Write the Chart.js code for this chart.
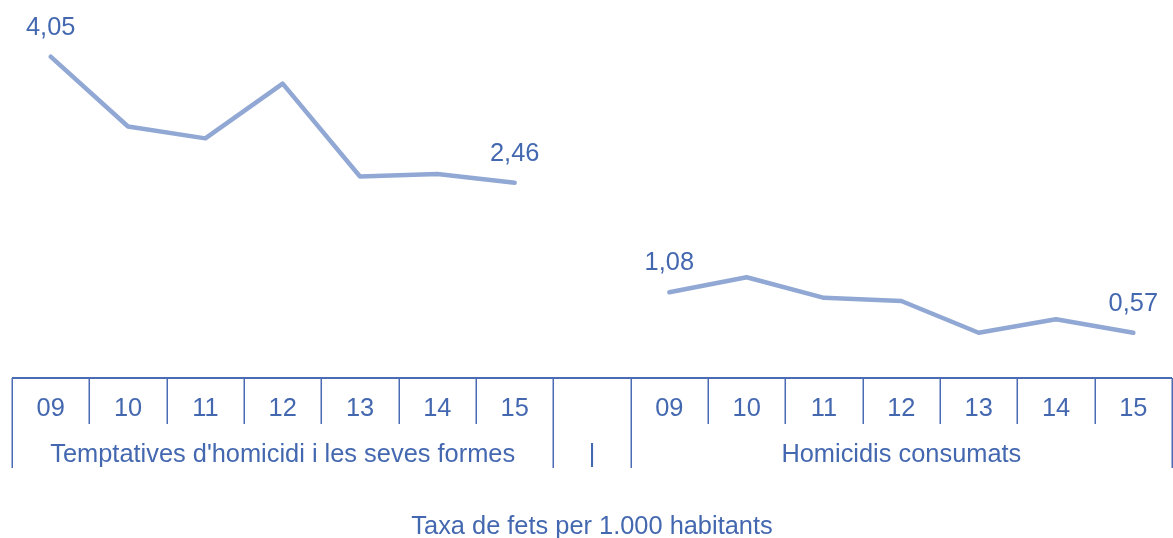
<!DOCTYPE html>
<html><head><meta charset="utf-8">
<script src="https://cdn.jsdelivr.net/npm/chart.js@4.4.0/dist/chart.umd.min.js"></script>
<style>html,body{margin:0;padding:0;background:#fff}#wrap{width:1173px;height:538px;position:relative}</style>
</head><body><div id="wrap"><canvas id="c"></canvas></div>
<script>
const categories = ['09','10','11','12','13','14','15','','09','10','11','12','13','14','15'];
const groupLabels = ["Temptatives d'homicidi i les seves formes", "|", "Homicidis consumats"];
const groupSizes = [7, 1, 7];
const temptatives = [4.05, 3.17, 3.02, 3.71, 2.54, 2.57, 2.46];
const consumats = [1.08, 1.27, 1.01, 0.97, 0.57, 0.74, 0.57];
const axisTitle = 'Taxa de fets per 1.000 habitants';

const LINE = 'rgb(145,168,212)';
const TEXT = 'rgb(68,104,176)';
const AXIS = 'rgb(74,108,180)';
const FONT = '"Liberation Sans", Arial, sans-serif';

const pad = n => Array(n).fill(null);
const data1 = temptatives.concat(pad(categories.length - temptatives.length));
const data2 = pad(categories.length - consumats.length).concat(consumats);

function fmt(v){ return v.toFixed(2).replace('.', ','); }

const framePlugin = {
  id: 'frame',
  afterDatasetsDraw(chart) {
    const ctx = chart.ctx, xs = chart.scales.x, area = chart.chartArea;
    const n = categories.length;
    const half = (xs.getPixelForValue(1) - xs.getPixelForValue(0)) / 2;
    const bx = i => i < n ? xs.getPixelForValue(i) - half : xs.getPixelForValue(n - 1) + half;
    const yb = area.bottom;
    ctx.save();
    ctx.strokeStyle = AXIS;
    ctx.lineWidth = 2;
    ctx.beginPath();
    ctx.moveTo(bx(0), yb); ctx.lineTo(bx(n), yb);
    ctx.stroke();
    const groupBounds = [0];
    groupSizes.reduce((a, s) => { groupBounds.push(a + s); return a + s; }, 0);
    ctx.lineWidth = 1.5;
    for (let i = 0; i <= n; i++) {
      const x = Math.round(bx(i)) + 0.25;
      const isGroup = groupBounds.includes(i);
      ctx.beginPath();
      ctx.moveTo(x, yb);
      ctx.lineTo(x, yb + (isGroup ? 90 : 46));
      ctx.stroke();
    }
    ctx.fillStyle = TEXT;
    ctx.textAlign = 'center';
    ctx.textBaseline = 'middle';
    ctx.font = '25.4px ' + FONT;
    categories.forEach((c, i) => { if (c) ctx.fillText(c, xs.getPixelForValue(i), yb + 31); });
    for (let g = 0; g < groupLabels.length; g++) {
      const cx = (bx(groupBounds[g]) + bx(groupBounds[g + 1])) / 2;
      ctx.fillText(groupLabels[g], cx, yb + 77);
    }
    ctx.fillText(axisTitle, (bx(0) + bx(n)) / 2, yb + 149);
    // data labels at first and last point of each series
    chart.data.datasets.forEach((ds, di) => {
      const meta = chart.getDatasetMeta(di);
      const idx = ds.data.map((v, i) => v == null ? -1 : i).filter(i => i >= 0);
      [idx[0], idx[idx.length - 1]].forEach(i => {
        const p = meta.data[i];
        ctx.fillText(fmt(ds.data[i]), p.x, p.y - 29);
      });
    });
    ctx.restore();
  }
};

new Chart(document.getElementById('c'), {
  type: 'line',
  data: {
    labels: categories,
    datasets: [
      { label: groupLabels[0], data: data1, borderColor: LINE, borderWidth: 4.5, pointRadius: 0, tension: 0, borderCapStyle: 'round', borderJoinStyle: 'round' },
      { label: groupLabels[2], data: data2, borderColor: LINE, borderWidth: 4.5, pointRadius: 0, tension: 0, borderCapStyle: 'round', borderJoinStyle: 'round' }
    ]
  },
  options: {
    responsive: true,
    maintainAspectRatio: false,
    animation: false,
    layout: { padding: { left: 12, right: 1, top: 13, bottom: 160 } },
    scales: {
      x: { type: 'category', offset: true, display: false },
      y: { display: false, min: 0, max: 4.6 }
    },
    plugins: { legend: { display: false }, tooltip: { enabled: false } }
  },
  plugins: [framePlugin]
});
</script></body></html>
